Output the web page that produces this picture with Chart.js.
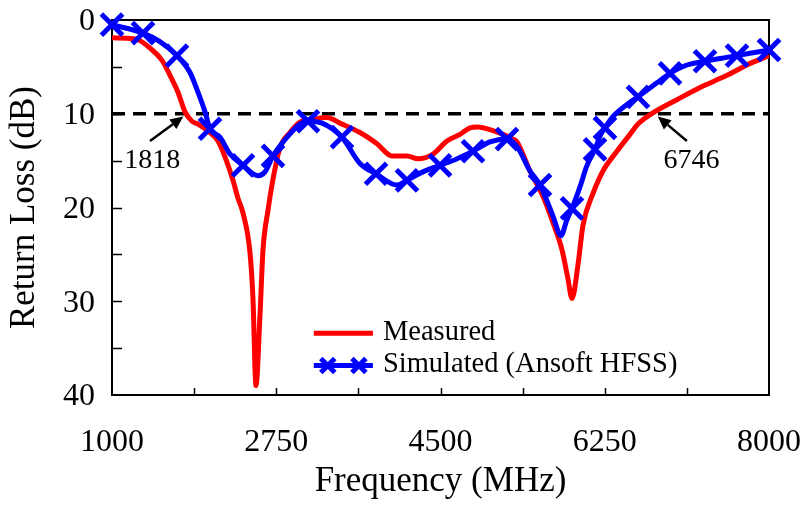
<!DOCTYPE html>
<html>
<head>
<meta charset="utf-8">
<style>
  html, body { margin: 0; padding: 0; background: #ffffff; }
  canvas { display: block; }
</style>
</head>
<body>
<canvas id="rlChart" width="803" height="505"></canvas>

<script src="https://cdn.jsdelivr.net/npm/chart.js"></script>
<script>
// Measured return loss (frequency in MHz, loss in dB)
const measFreq = [1000, 1224, 1298, 1405, 1533, 1618, 1703, 1778, 1852, 1916, 2044, 2129, 2204, 2289, 2342, 2396,
  2470, 2502, 2534, 2577, 2609, 2662, 2715, 2790, 2896, 3003, 3141, 3291, 3429, 3642, 3823, 3983, 4143, 4260,
  4420, 4569, 4708, 4814, 4899, 5027, 5166, 5272, 5315, 5453, 5592, 5698, 5794, 5858, 5901, 5965, 6018, 6125,
  6231, 6380, 6519, 6604, 6764, 7020, 7265, 7552, 7765, 8000];
const measLoss = [1.9, 2.0, 2.2, 3.0, 4.3, 5.9, 7.7, 9.8, 10.8, 11.1, 12.0, 12.9, 14.6, 17.1, 19.0, 20.6,
  24.8, 29.7, 39.0, 31.4, 24.5, 20.3, 17.0, 13.6, 12.0, 10.9, 10.6, 10.4, 11.0, 12.0, 13.2, 14.5, 14.5, 14.8,
  14.3, 12.9, 12.2, 11.5, 11.4, 11.7, 12.2, 12.7, 13.0, 16.1, 18.8, 21.6, 24.5, 27.6, 29.7, 26.1, 21.9, 18.5,
  16.1, 14.0, 12.2, 11.1, 9.9, 8.5, 7.2, 5.9, 4.8, 3.8];

// Simulated (Ansoft HFSS)
const simFreq = [1000, 1330, 1511, 1692, 1831, 1916, 1991, 2044, 2151, 2257, 2396, 2556, 2630, 2715, 2865, 3003,
  3088, 3237, 3450, 3642, 3813, 4036, 4143, 4313, 4495, 4676, 4846, 5027, 5208, 5315, 5453, 5560, 5698, 5783,
  5847, 5901, 5986, 6061, 6146, 6199, 6252, 6337, 6487, 6604, 6806, 6945, 7126, 7318, 7478, 7659, 7829, 8000];
const simLoss = [0.5, 1.4, 2.3, 3.8, 5.6, 7.7, 9.8, 11.6, 12.5, 14.3, 15.5, 16.6, 16.2, 14.5, 12.5, 11.1,
  10.8, 11.0, 12.5, 15.3, 16.4, 17.6, 17.1, 16.2, 15.5, 14.8, 14.0, 13.0, 12.7, 13.5, 16.1, 17.6, 20.9, 23.0,
  21.3, 20.1, 17.8, 15.5, 13.8, 12.4, 11.5, 10.3, 9.0, 8.2, 6.7, 5.7, 4.8, 4.4, 4.1, 3.8, 3.5, 3.2];
// frequencies where the simulation carries an X marker
const simMarkerFreq = [1000, 1330, 1692, 2044, 2396, 2715, 3088, 3450, 3813, 4143, 4495, 4846, 5208, 5560,
  5901, 6146, 6252, 6604, 6945, 7318, 7659, 8000];

// -10 dB reference and the two marked crossings
const refLevel = 10;
const xTickLabels = [1000, 2750, 4500, 6250, 8000];
const yTickLabels = [0, 10, 20, 30, 40];
const crossLabels = ['1818', '6746'];
const crossTip = [[1760, 10.3], [6815, 10.3]];
const crossTail = [[1405, 12.9], [7125, 12.9]];
const crossText = [[1430, 15.0], [7175, 15.0]];

const SERIF = '"Liberation Serif", "Times New Roman", serif';

const toXY = (xs, ys) => xs.map((x, i) => ({ x: x, y: ys[i] }));

// frame, inward ticks, arrows and the in-plot legend
const decorPlugin = {
    id: 'decor',
    beforeDatasetsDraw(chart) {
        const { ctx, chartArea: a, scales: { x, y } } = chart;
        ctx.save();
        ctx.strokeStyle = '#000';
        ctx.lineWidth = 2;
        ctx.strokeRect(a.left, a.top, a.right - a.left, a.bottom - a.top);
        ctx.lineWidth = 1.5;
        ctx.beginPath();
        for (let v = 5; v < 40; v += 5) {
            const py = Math.round(y.getPixelForValue(v)) + 0.5;
            ctx.moveTo(a.left, py);
            ctx.lineTo(a.left + 10, py);
        }
        for (let f = 1875; f < 8000; f += 875) {
            const px = Math.round(x.getPixelForValue(f)) + 0.5;
            ctx.moveTo(px, a.bottom);
            ctx.lineTo(px, a.bottom - 7);
        }
        ctx.stroke();
        ctx.restore();
    },
    afterDatasetsDraw(chart) {
        const { ctx, scales: { x, y } } = chart;
        ctx.save();
        // arrows
        ctx.strokeStyle = '#000';
        ctx.fillStyle = '#000';
        ctx.lineWidth = 2.5;
        crossLabels.forEach((lab, i) => {
            const tx = x.getPixelForValue(crossTip[i][0]), ty = y.getPixelForValue(crossTip[i][1]);
            const sx = x.getPixelForValue(crossTail[i][0]), sy = y.getPixelForValue(crossTail[i][1]);
            const ang = Math.atan2(ty - sy, tx - sx);
            const head = 13, hw = 6;
            const bx = tx - head * Math.cos(ang), by = ty - head * Math.sin(ang);
            ctx.beginPath();
            ctx.moveTo(sx, sy);
            ctx.lineTo(bx, by);
            ctx.stroke();
            ctx.beginPath();
            ctx.moveTo(tx, ty);
            ctx.lineTo(bx + hw * Math.sin(ang), by - hw * Math.cos(ang));
            ctx.lineTo(bx - hw * Math.sin(ang), by + hw * Math.cos(ang));
            ctx.closePath();
            ctx.fill();
            ctx.font = '28px ' + SERIF;
            ctx.textAlign = 'center';
            ctx.textBaseline = 'middle';
            ctx.fillText(lab, x.getPixelForValue(crossText[i][0]), y.getPixelForValue(crossText[i][1]));
        });

        // legend
        const lx0 = x.getPixelForValue(3150), lx1 = x.getPixelForValue(3780);
        const ly1 = y.getPixelForValue(33.4), ly2 = y.getPixelForValue(36.85);
        ctx.lineCap = 'butt';
        ctx.lineWidth = 5;
        ctx.strokeStyle = '#ff0000';
        ctx.beginPath();
        ctx.moveTo(lx0, ly1);
        ctx.lineTo(lx1, ly1);
        ctx.stroke();
        ctx.strokeStyle = '#0000ff';
        ctx.beginPath();
        ctx.moveTo(lx0, ly2);
        ctx.lineTo(lx1, ly2);
        ctx.stroke();
        [lx0 + 14, lx1 - 14].forEach(mx => {
            const r = 7;
            ctx.beginPath();
            ctx.moveTo(mx - r, ly2 - r);
            ctx.lineTo(mx + r, ly2 + r);
            ctx.moveTo(mx - r, ly2 + r);
            ctx.lineTo(mx + r, ly2 - r);
            ctx.stroke();
        });
        ctx.fillStyle = '#000';
        ctx.font = '28.5px ' + SERIF;
        ctx.textAlign = 'left';
        ctx.textBaseline = 'middle';
        ctx.fillText('Measured', lx1 + 10, ly1 - 1);
        ctx.fillText('Simulated (Ansoft HFSS)', lx1 + 10, ly2 - 1);
        ctx.restore();
    }
};

const ctx = document.getElementById('rlChart').getContext('2d');
const chart = new Chart(ctx, {
    type: 'line',
    data: {
        datasets: [
            {
                label: '-10 dB',
                data: [{ x: 1000, y: refLevel }, { x: 8000, y: refLevel }],
                borderColor: '#000000',
                borderWidth: 3.5,
                borderDash: [13, 8],
                pointRadius: 0,
                order: 3
            },
            {
                label: 'Measured',
                data: toXY(measFreq, measLoss),
                borderColor: '#ff0000',
                borderWidth: 5,
                pointRadius: 0,
                cubicInterpolationMode: 'monotone',
                order: 2
            },
            {
                label: 'Simulated (Ansoft HFSS)',
                data: toXY(simFreq, simLoss),
                borderColor: '#0000ff',
                backgroundColor: '#0000ff',
                borderWidth: 5,
                cubicInterpolationMode: 'monotone',
                pointStyle: 'crossRot',
                pointRadius: c => simMarkerFreq.includes(simFreq[c.dataIndex]) ? 15 : 0,
                pointBorderWidth: 5,
                pointBorderColor: '#0000ff',
                clip: false,
                order: 1
            }
        ]
    },
    options: {
        responsive: false,
        animation: false,
        events: [],
        layout: { padding: { top: 14, right: 34, left: 0, bottom: 0 } },
        plugins: {
            legend: { display: false },
            tooltip: { enabled: false }
        },
        scales: {
            x: {
                type: 'linear',
                min: 1000,
                max: 8000,
                afterBuildTicks: s => { s.ticks = xTickLabels.map(v => ({ value: v })); },
                afterFit: s => { s.height = 110; s.paddingLeft = 0; s.paddingRight = 0; },
                grid: { display: false, drawTicks: false },
                border: { display: false },
                ticks: {
                    color: '#000',
                    padding: 28,
                    maxRotation: 0,
                    autoSkip: false,
                    callback: v => String(v),
                    font: { family: SERIF, size: 32 }
                },
                title: {
                    display: true,
                    text: 'Frequency (MHz)',
                    color: '#000',
                    padding: { top: 0, bottom: 2 },
                    font: { family: SERIF, size: 35 }
                }
            },
            y: {
                type: 'linear',
                min: 0,
                max: 40,
                reverse: true,
                afterBuildTicks: s => { s.ticks = yTickLabels.map(v => ({ value: v })); },
                afterFit: s => { s.width = 112; s.paddingTop = 0; s.paddingBottom = 0; },
                grid: { display: false, drawTicks: false },
                border: { display: false },
                ticks: {
                    color: '#000',
                    padding: 17,
                    labelOffset: 2,
                    autoSkip: false,
                    callback: v => String(v),
                    font: { family: SERIF, size: 32 }
                },
                title: {
                    display: true,
                    text: 'Return Loss (dB)',
                    color: '#000',
                    padding: { top: 4, bottom: 0 },
                    font: { family: SERIF, size: 35 }
                }
            }
        }
    },
    plugins: [decorPlugin]
});
</script>
</body>
</html>
